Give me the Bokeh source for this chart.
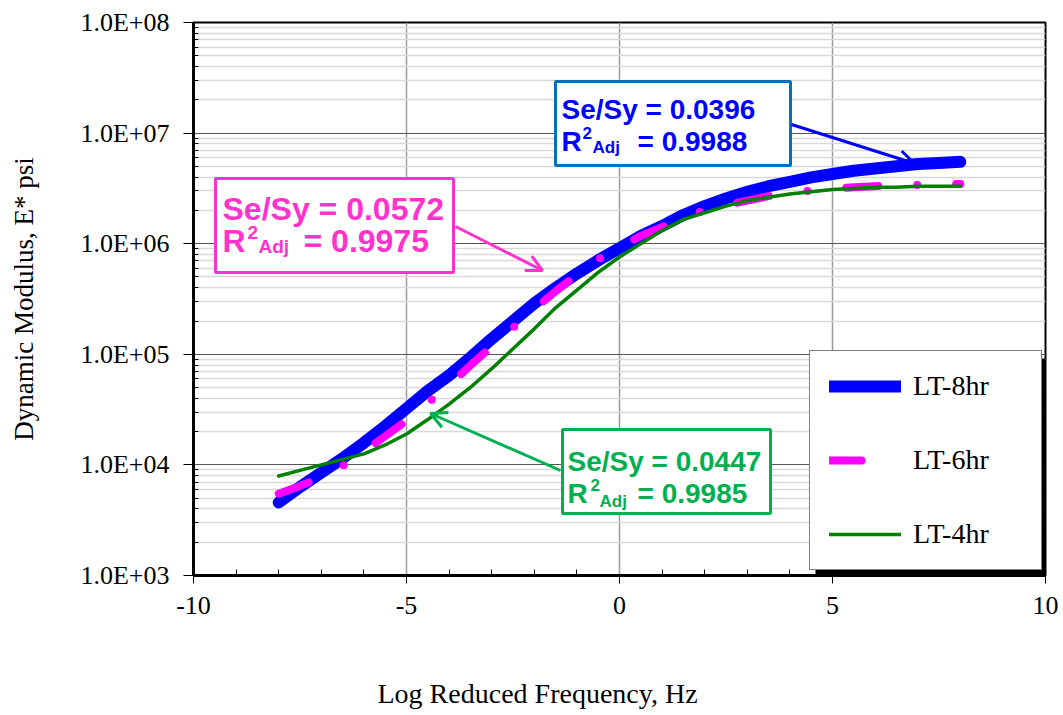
from bokeh.plotting import figure
from bokeh.embed import file_html
from bokeh.resources import INLINE
from bokeh.models import (FixedTicker, CustomJSTickFormatter, Legend, LegendItem,
                          BoxAnnotation, Label, Arrow, OpenHead, Range1d, Title)

# ---------------- data ----------------
log_freq = [-8.0, -7.5, -7.0, -6.5, -6.0, -5.5, -5.0, -4.5, -4.0, -3.5, -3.0,
            -2.5, -2.0, -1.5, -1.0, -0.5, 0.0, 0.5, 1.0, 1.5, 2.0, 2.5, 3.0,
            3.5, 4.0, 4.5, 5.0, 5.5, 6.0, 6.5, 7.0, 7.5, 8.0]

lt_8hr = [4571, 6310, 8511, 11480, 15850, 22390, 32360, 46770, 64570, 93330,
          138000, 199500, 288400, 398100, 537000, 707900, 912000, 1175000,
          1445000, 1820000, 2188000, 2570000, 2951000, 3311000, 3631000,
          3981000, 4266000, 4571000, 4786000, 5012000, 5248000, 5370000, 5495000]

lt_6hr = [5495, 6457, 7762, 9772, 13180, 18200, 25120, 36310, 52480, 79430,
          117500, 173800, 257000, 371500, 524800, 724400, 933300, 1175000,
          1413000, 1738000, 1995000, 2239000, 2455000, 2692000, 2884000,
          3020000, 3162000, 3236000, 3311000, 3388000, 3388000, 3467000, 3467000]

lt_4hr = [7943, 8913, 10000, 11220, 12590, 15140, 19050, 25700, 35480, 50120,
          74130, 112200, 169800, 263000, 380200, 549500, 758600, 1000000,
          1318000, 1660000, 1905000, 2188000, 2455000, 2630000, 2818000,
          2951000, 3090000, 3162000, 3236000, 3236000, 3311000, 3311000, 3311000]

series_names = ["LT-8hr", "LT-6hr", "LT-4hr"]
x_ticks = [-10, -5, 0, 5, 10]
x_minor_ticks = [-9, -8, -7, -6, -4, -3, -2, -1, 1, 2, 3, 4, 6, 7, 8, 9]
y_ticks = [1e3, 1e4, 1e5, 1e6, 1e7, 1e8]
y_minor_ticks = [m * 10 ** e for e in range(3, 8) for m in range(2, 10)]

# ---------------- figure ----------------
FL, FR, FT, FB = 193, 1045, 22, 575   # frame pixel edges


def X(px):
    return -10 + (px - FL) * 20.0 / (FR - FL)


def Y(py):
    return 10 ** (3 + (FB - py) * 5.0 / (FB - FT))


p = figure(width=1063, height=715, x_range=Range1d(-10, 10),
           y_range=Range1d(1e3, 1e8), y_axis_type="log",
           output_backend="svg", toolbar_location=None,
           min_border_left=FL, min_border_right=1063 - FR,
           min_border_top=FT, min_border_bottom=715 - FB)
p.background_fill_color = "white"
p.border_fill_color = "white"
p.outline_line_color = "black"
p.outline_line_width = 2

serif = "Liberation Serif"

p.xaxis.ticker = FixedTicker(ticks=x_ticks, minor_ticks=x_minor_ticks)
p.yaxis.ticker = FixedTicker(ticks=y_ticks, minor_ticks=y_minor_ticks)
p.xaxis.formatter = CustomJSTickFormatter(code="return tick.toFixed(0);")
p.yaxis.formatter = CustomJSTickFormatter(code="""
const e = Math.round(Math.log10(tick));
return "1.0E+" + (e < 10 ? "0" + e : "" + e);
""")

for ax in (p.xaxis, p.yaxis):
    ax.axis_line_width = 3
    ax.axis_line_color = "black"
    ax.major_tick_line_color = "black"
    ax.minor_tick_line_color = "black"
    ax.major_tick_line_width = 1
    ax.minor_tick_line_width = 1
    ax.major_label_text_font = serif
    ax.major_label_text_font_size = "26px"
    ax.major_label_text_color = "black"
    ax.axis_label_text_font = serif
    ax.axis_label_text_font_size = "27px"
    ax.axis_label_text_font_style = "normal"
    ax.axis_label_text_color = "black"

p.xaxis.major_tick_in = 0
p.xaxis.major_tick_out = 8
p.xaxis.minor_tick_in = 6
p.xaxis.minor_tick_out = 0
p.xaxis.major_label_standoff = 13

p.yaxis.major_tick_in = 0
p.yaxis.major_tick_out = 10
p.yaxis.minor_tick_in = 5
p.yaxis.minor_tick_out = 0
p.yaxis.major_label_standoff = 14
p.yaxis.axis_label = "Dynamic Modulus, E* psi"
p.yaxis.axis_label_standoff = 38

p.xgrid.grid_line_color = "#9a9a9a"
p.xgrid.grid_line_width = 1.5
p.ygrid.grid_line_color = "#555555"
p.ygrid.grid_line_width = 1
p.ygrid.minor_grid_line_color = "#d9d9d9"
p.ygrid.minor_grid_line_width = 1.5

# x-axis title, placed left of centre as in the original
p.add_layout(Title(text="Log Reduced Frequency, Hz", align="left", offset=184,
                   text_font=serif, text_font_size="28px",
                   text_font_style="normal", text_color="black",
                   padding=dict(left=0, right=0, top=54, bottom=0)), "below")

# ---------------- curves ----------------
r8 = p.line(log_freq, lt_8hr, line_color="#0000FF", line_width=12,
            line_cap="round", line_join="round")
r6 = p.line(log_freq, lt_6hr, line_color="#FF00FF", line_width=8,
            line_cap="round", line_join="round", line_dash="32 39 0 39")
r4 = p.line(log_freq, lt_4hr, line_color="#008000", line_width=3.5,
            line_cap="round", line_join="round")

# legend swatch for LT-6hr: a single dash, as in the original key
# (a renderer with no drawable points, used only for the key)
r6_key = p.line(log_freq[:2], [float("nan"), float("nan")], line_color="#FF00FF",
                line_width=8, line_cap="round", line_dash="32 80")

# ---------------- legend with shadow ----------------
shadow = BoxAnnotation(left=X(815), right=X(1047), top=Y(358), bottom=Y(578),
                       fill_color="black", fill_alpha=1, line_color=None)
p.add_layout(shadow)

legend = Legend(items=[LegendItem(label=series_names[0], renderers=[r8]),
                       LegendItem(label=series_names[1], renderers=[r6_key]),
                       LegendItem(label=series_names[2], renderers=[r4])],
                location=(616, 5))
legend.border_line_color = "black"
legend.border_line_width = 1
legend.background_fill_color = "white"
legend.background_fill_alpha = 1
legend.label_text_font = serif
legend.label_text_font_size = "28px"
legend.label_text_color = "black"
legend.glyph_width = 72
legend.glyph_height = 20
legend.label_height = 20
legend.label_width = 109
legend.label_standoff = 12
legend.spacing = 42
legend.padding = 19
legend.margin = 0
p.add_layout(legend)

# ---------------- annotation boxes ----------------
sans = "Liberation Sans"


def note(box, border, color, size, sub_size, l1, sup_dx, sub_dx, eq_dx,
         base1, base2, sup_base, sub_base, x0, value2):
    bl, bt, br, bb = box
    p.add_layout(BoxAnnotation(left=X(bl), right=X(br), top=Y(bt), bottom=Y(bb),
                               fill_color="white", fill_alpha=1,
                               line_color=border, line_alpha=1, line_width=3))
    common = dict(text_color=color, text_font=sans, text_font_style="bold",
                  text_baseline="alphabetic", text_align="left")
    p.add_layout(Label(x=X(x0), y=Y(base1), text=l1, text_font_size=f"{size}px", **common))
    p.add_layout(Label(x=X(x0), y=Y(base2), text="R", text_font_size=f"{size}px", **common))
    p.add_layout(Label(x=X(x0 + sup_dx), y=Y(sup_base), text="2",
                       text_font_size=f"{sub_size}px", **common))
    p.add_layout(Label(x=X(x0 + sub_dx), y=Y(sub_base), text="Adj",
                       text_font_size=f"{sub_size}px", **common))
    p.add_layout(Label(x=X(x0 + eq_dx), y=Y(base2), text=value2,
                       text_font_size=f"{size}px", **common))


note((555, 81, 790, 165), "#0070C0", "#0000FF", 28, 17, "Se/Sy = 0.0396",
     21, 31, 76, 109, 141, 132, 147, 561, "= 0.9988")
note((215, 178, 453, 272), "#FF33CC", "#FF33CC", 32, 19, "Se/Sy = 0.0572",
     25, 36, 81, 208, 240, 232, 246, 222, "= 0.9975")
note((562, 429, 770, 513), "#00B050", "#00B050", 28, 17, "Se/Sy = 0.0447",
     23, 32, 70, 461, 493, 484, 501, 567, "= 0.9985")

# ---------------- arrows ----------------
for (x1, y1, x2, y2, c) in [(791, 124, 914, 163, "#0000FF"),
                            (455, 226, 542, 270, "#FF33CC"),
                            (560, 470, 430, 413, "#00B050")]:
    p.add_layout(Arrow(end=OpenHead(size=16, line_color=c, line_width=3),
                       x_start=X(x1), y_start=Y(y1), x_end=X(x2), y_end=Y(y2),
                       line_color=c, line_width=3))

open("out.html", "w").write(file_html(p, INLINE))
